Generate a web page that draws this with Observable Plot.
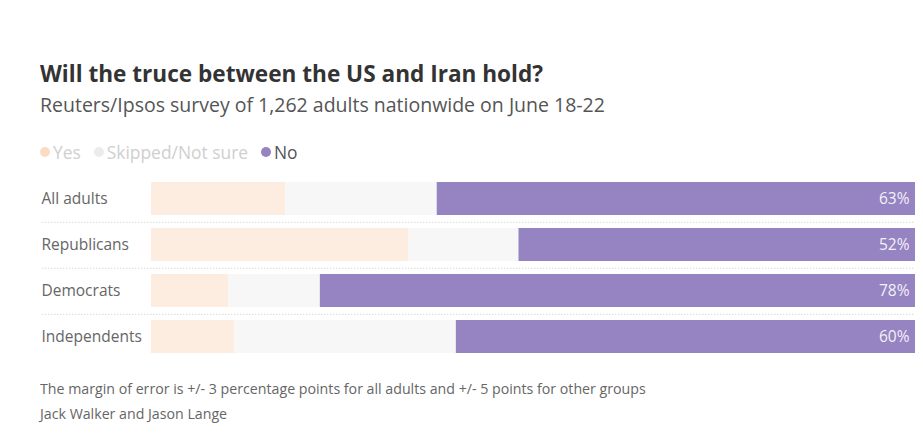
<!DOCTYPE html>
<html>
<head>
<meta charset="utf-8">
<script src="https://cdn.jsdelivr.net/npm/d3@7"></script>
<script src="https://cdn.jsdelivr.net/npm/@observablehq/plot@0.6"></script>
<style>
  html, body { margin: 0; padding: 0; background: #fff; width: 923px; height: 446px; overflow: hidden; }
  body { position: relative; font-family: "Open Sans", Lato, sans-serif; }
  .abs { position: absolute; left: 40px; white-space: nowrap; }
  #title { top: 60px; font-size: 22.6px; font-weight: 700; color: #333; line-height: 28px; }
  #subtitle { top: 93px; font-size: 19.5px; color: #555; line-height: 24px; }
  #legend { top: 142px; font-size: 17.4px; line-height: 20px; display: flex; align-items: center; }
  #legend .item { display: flex; align-items: center; margin-right: 13px; }
  #legend .dot { width: 10px; height: 10px; border-radius: 50%; margin-right: 3px; }
  #chart { position: absolute; left: 0; top: 170px; }
  .foot { font-size: 14.2px; color: #666; line-height: 20px; }
  #foot1 { top: 379px; }
  #foot2 { top: 404px; }
</style>
</head>
<body>
<div id="title" class="abs">Will the truce between the US and Iran hold?</div>
<div id="subtitle" class="abs">Reuters/Ipsos survey of 1,262 adults nationwide on June 18-22</div>
<div id="legend" class="abs"></div>
<div id="chart"></div>
<div id="foot1" class="abs foot">The margin of error is +/- 3 percentage points for all adults and +/- 5 points for other groups</div>
<div id="foot2" class="abs foot">Jack Walker and Jason Lange</div>
<script>
const categories = ["All adults", "Republicans", "Democrats", "Independents"];
const responses = ["Yes", "Skipped/Not sure", "No"];
const yesValues = [17.6, 33.7, 10.1, 10.9];
const skippedValues = [19.8, 14.4, 12.0, 29.0];
const noValues = [62.6, 51.9, 77.9, 60.1];

const barColors = ["#fdede0", "#f7f7f7", "#9683c1"];
const legendDotColors = ["#fbdcc3", "#ececec", "#9683c1"];
const legendTextColors = ["#cfcfcf", "#cfcfcf", "#555"];

// legend
const legend = document.getElementById("legend");
responses.forEach((r, i) => {
  const item = document.createElement("div");
  item.className = "item";
  item.innerHTML = `<span class="dot" style="background:${legendDotColors[i]}"></span><span style="color:${legendTextColors[i]}">${r}</span>`;
  legend.appendChild(item);
});

const series = [yesValues, skippedValues, noValues];
const rows = [];
categories.forEach((c, ci) => {
  responses.forEach((r, ri) => rows.push({group: c, response: r, value: series[ri][ci]}));
});
const labels = categories.map((c, i) => ({group: c, label: `${Math.round(noValues[i])}%`}));

const chart = Plot.plot({
  width: 923,
  height: 192,
  marginTop: 4,
  marginBottom: 2,
  marginLeft: 151,
  marginRight: 8,
  style: {fontFamily: "'Open Sans', Lato, sans-serif", background: "transparent"},
  x: {domain: [0, 100], axis: null},
  y: {domain: categories, paddingInner: 0.29, paddingOuter: 0.145, axis: null},
  color: {domain: responses, range: barColors},
  marks: [
    Plot.ruleY(categories.slice(0, -1), {
      y: d => d, dy: 23.25, stroke: "#d9d9d9", strokeWidth: 1, strokeDasharray: "1.5,1.5",
      insetLeft: -109
    }),
    Plot.barX(rows, Plot.stackX({x: "value", y: "group", fill: "response", inset: 0})),
    Plot.text(categories, {
      y: d => d, frameAnchor: "left", textAnchor: "start", dx: -110,
      fontSize: 15.5, fill: "#666"
    }),
    Plot.text(labels, {
      x: () => 100, y: "group", text: "label", textAnchor: "end", dx: -6,
      fontSize: 15.5, fill: "#f3f1f8"
    })
  ]
});
document.getElementById("chart").appendChild(chart);
</script>
</body>
</html>
